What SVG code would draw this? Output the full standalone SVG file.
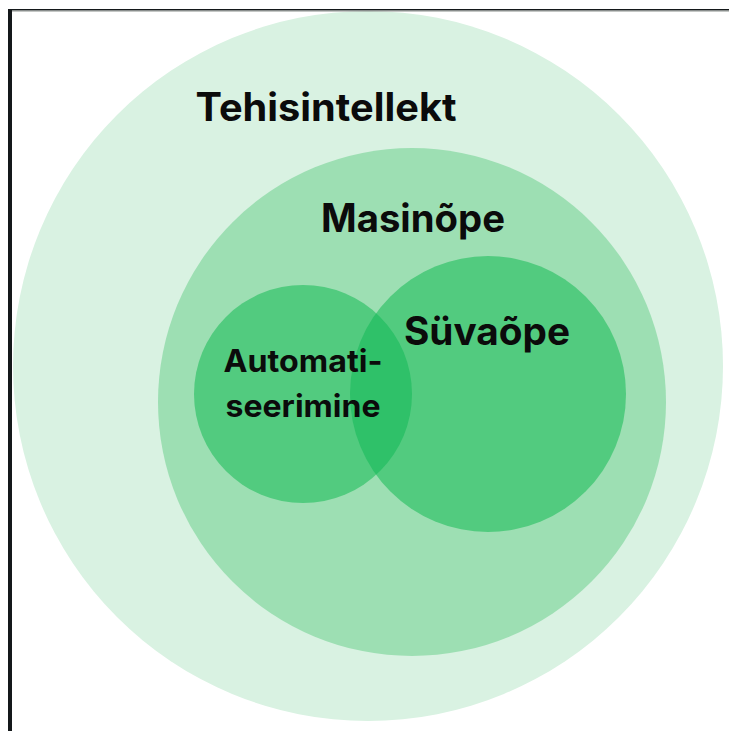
<svg xmlns="http://www.w3.org/2000/svg" width="729" height="731" viewBox="0 0 729 731">
  <style>
    .lbl { font-family: Inter, "Open Sans", "Liberation Sans", sans-serif; font-weight: 700; fill: #0b0b0b; text-anchor: middle; }
    .big { font-size: 39px; }
    .small { font-size: 31px; }
  </style>
  <defs>
    <clipPath id="clipAuto">
      <circle cx="303" cy="394" r="109"/>
    </clipPath>
  </defs>
  <rect x="0" y="0" width="729" height="731" fill="#ffffff"/>

  <g id="tehisintellekt">
    <circle cx="368" cy="366" r="355" fill="#d9f2e2"/>
    <text class="lbl big" x="326" y="121" textLength="261" lengthAdjust="spacingAndGlyphs">Tehisintellekt</text>
  </g>

  <g id="masinope">
    <circle cx="412" cy="402" r="254" fill="#9ddfb3"/>
    <text class="lbl big" x="413" y="232" textLength="184" lengthAdjust="spacingAndGlyphs">Masinõpe</text>
  </g>

  <g id="automatiseerimine">
    <circle cx="303" cy="394" r="109" fill="#52cb7f"/>
  </g>

  <g id="suvaope">
    <circle cx="488" cy="394" r="138" fill="#52cb7f"/>
    <circle cx="488" cy="394" r="138" fill="#2fc169" clip-path="url(#clipAuto)"/>
    <text class="lbl big" x="487" y="345" textLength="166" lengthAdjust="spacingAndGlyphs">Süvaõpe</text>
  </g>

  <g id="automatiseerimine-label">
    <text class="lbl small" x="303" y="372" textLength="159" lengthAdjust="spacingAndGlyphs">Automati-</text>
    <text class="lbl small" x="303" y="417" textLength="155" lengthAdjust="spacingAndGlyphs">seerimine</text>
  </g>

  <g id="connectors"></g>

  <g id="frame">
    <rect x="8" y="9" width="4" height="722" fill="#14181a"/>
    <rect x="8" y="9" width="721" height="1.5" fill="#14181a"/>
    <rect x="12" y="10.5" width="717" height="1" fill="#8a8f8c"/>
  </g>
</svg>
